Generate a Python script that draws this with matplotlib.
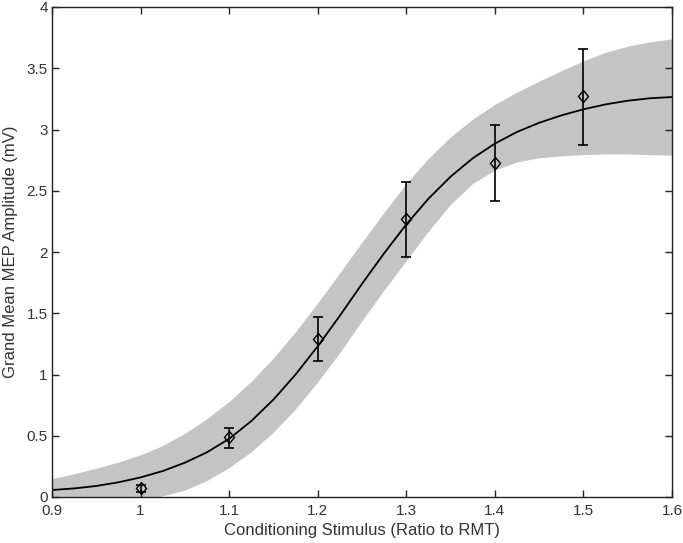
import matplotlib
matplotlib.use("Agg")
import matplotlib.pyplot as plt
from matplotlib.markers import MarkerStyle
from matplotlib.transforms import Affine2D

plt.rcParams['font.family'] = ['Liberation Sans', 'DejaVu Sans']

# Fitted curve and confidence band
curve_x = [0.9, 0.925, 0.95, 0.975, 1.0, 1.025, 1.05, 1.075, 1.1, 1.125, 1.15, 1.175,
           1.2, 1.225, 1.25, 1.275, 1.3, 1.325, 1.35, 1.375, 1.4, 1.425, 1.45, 1.475,
           1.5, 1.525, 1.55, 1.575, 1.6]
curve_y = [0.057, 0.070, 0.090, 0.120, 0.160, 0.212, 0.280, 0.365, 0.475, 0.620, 0.795, 1.000,
           1.230, 1.480, 1.740, 1.990, 2.225, 2.435, 2.615, 2.765, 2.885, 2.980, 3.055, 3.115,
           3.165, 3.205, 3.235, 3.255, 3.265]
band_upper = [0.15, 0.19, 0.235, 0.285, 0.345, 0.42, 0.52, 0.64, 0.78, 0.945, 1.135, 1.35,
              1.585, 1.83, 2.08, 2.325, 2.56, 2.765, 2.94, 3.085, 3.205, 3.305, 3.395, 3.48,
              3.56, 3.63, 3.68, 3.715, 3.74]
band_lower = [-0.13, -0.11, -0.085, -0.06, -0.03, 0.01, 0.057, 0.135, 0.24, 0.37, 0.53, 0.72,
              0.94, 1.18, 1.44, 1.69, 1.93, 2.17, 2.39, 2.56, 2.67, 2.735, 2.77, 2.785,
              2.795, 2.80, 2.80, 2.795, 2.79]

# Data points with error bars
stim = [1.0, 1.1, 1.2, 1.3, 1.4, 1.5]
mep = [0.07, 0.487, 1.29, 2.27, 2.73, 3.27]
err_low = [0.03, 0.087, 0.18, 0.31, 0.31, 0.40]
err_high = [0.03, 0.079, 0.18, 0.30, 0.31, 0.39]

xticks = [0.9, 1.0, 1.1, 1.2, 1.3, 1.4, 1.5, 1.6]
xticklabels = ['0.9', '1', '1.1', '1.2', '1.3', '1.4', '1.5', '1.6']
yticks = [0, 0.5, 1, 1.5, 2, 2.5, 3, 3.5, 4]
yticklabels = ['0', '0.5', '1', '1.5', '2', '2.5', '3', '3.5', '4']

fig = plt.figure(figsize=(6.83, 5.43), dpi=100)
ax = fig.add_axes([52/683, 1-497/543, 620/683, 490/543])

diamond = MarkerStyle('D', transform=Affine2D().scale(0.85, 1.0))

ax.fill_between(curve_x, band_lower, band_upper, color='#c4c4c4', linewidth=0, zorder=1)
ax.plot(curve_x, curve_y, color='black', linewidth=1.3, zorder=2)
ax.errorbar(stim, mep, yerr=[err_low, err_high], fmt='none', ecolor='black',
            elinewidth=1.2, capsize=3.8, capthick=1.2, zorder=3)
ax.plot(stim, mep, linestyle='none', marker=diamond, markersize=6,
        markerfacecolor='none', markeredgecolor='black', markeredgewidth=1.0, zorder=4)

ax.set_xlim(0.9, 1.6)
ax.set_ylim(0, 4)
ax.set_xticks(xticks)
ax.set_xticklabels(xticklabels)
ax.set_yticks(yticks)
ax.set_yticklabels(yticklabels)
ax.tick_params(direction='in', top=True, right=True, length=5, width=1,
               labelsize=11, colors='#222222', labelcolor='#333333')
ax.tick_params(axis='x', pad=5)
ax.tick_params(axis='y', pad=3)
for s in ax.spines.values():
    s.set_linewidth(1.0)
    s.set_color('#222222')

ax.set_xlabel('Conditioning Stimulus (Ratio to RMT)', fontsize=12, color='#333333', labelpad=4)
ax.set_ylabel('Grand Mean MEP Amplitude (mV)', fontsize=12, color='#333333', labelpad=6)

fig.savefig('out.png', dpi=100)
